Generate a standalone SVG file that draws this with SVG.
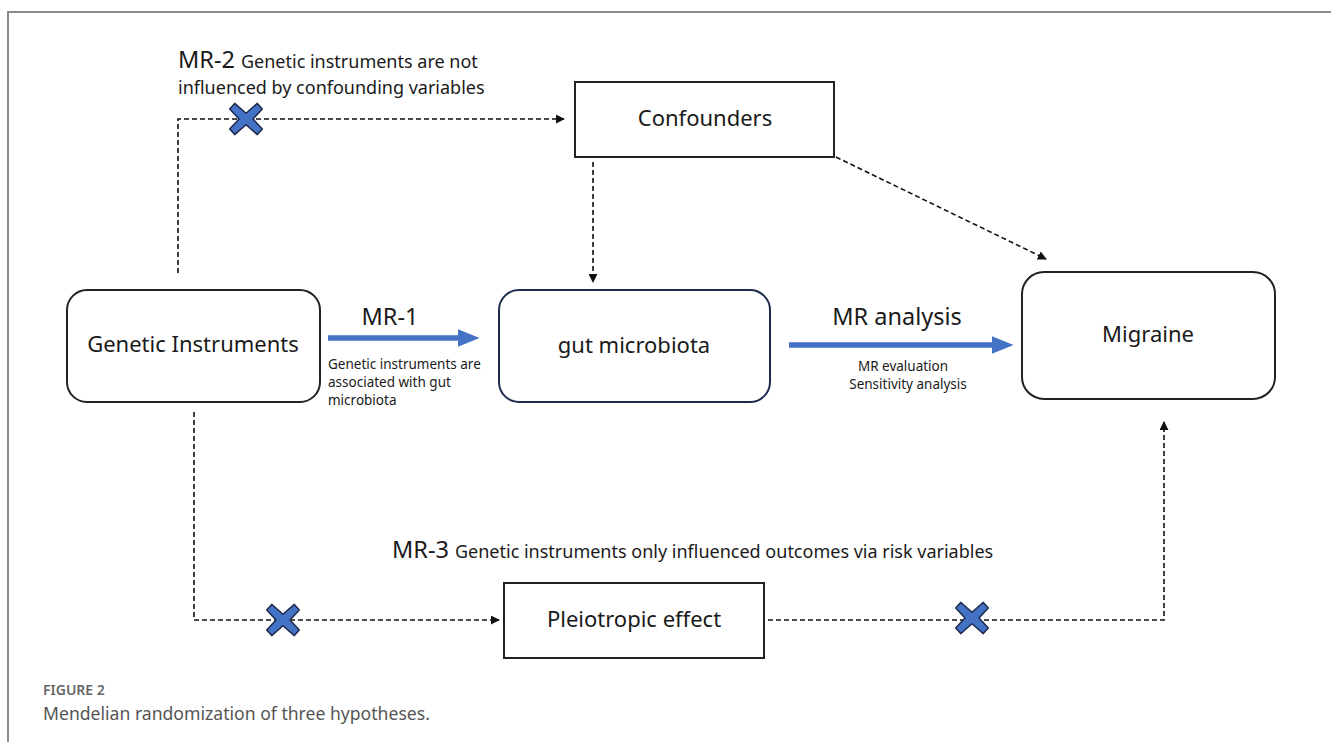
<svg xmlns="http://www.w3.org/2000/svg" xmlns:xlink="http://www.w3.org/1999/xlink" width="1331" height="742" viewBox="0 0 1331 742">
<style>
text{font-family:"Noto Sans","Open Sans","Liberation Sans",sans-serif;fill:#1a1a1a}
.node{fill:#fff;stroke:#222;stroke-width:2}
.navy{stroke:#1e2b4d}
.dash{fill:none;stroke:#111;stroke-width:1.6;stroke-dasharray:5 3}
.blue{fill:none;stroke:#4472c4;stroke-width:5.5}
.big{font-size:22px}
.lbl{font-size:23.5px}
.mid{font-size:18px}
.small{font-size:13.5px}
.frame{stroke:#8c8c8c;stroke-width:2;fill:none}
</style>
<defs>
<marker id="ah" viewBox="0 0 10 10" refX="9" refY="5" markerWidth="9" markerHeight="9" markerUnits="userSpaceOnUse" orient="auto">
<path d="M0,0 L10,5 L0,10 z" fill="#111"/>
</marker>
<marker id="bh" viewBox="0 0 10 10" refX="2" refY="5" markerWidth="22" markerHeight="18" markerUnits="userSpaceOnUse" orient="auto" preserveAspectRatio="none">
<path d="M0,0 L10,5 L0,10 z" fill="#4472c4"/>
</marker>
<polygon id="xm" points="-11.3,-15.6 0,-5.7 11.3,-15.6 16.3,-9.9 7,0 16.3,9.9 11.3,15.6 0,5.7 -11.3,15.6 -16.3,9.9 -7,0 -16.3,-9.9" fill="#4472c4" stroke="#1e2b4d" stroke-width="1.5" stroke-linejoin="round"/>
</defs>
<rect width="1331" height="742" fill="#fff"/>
<path class="frame" d="M8,742 L8,12 L1331,12"/>

<g id="connectors">
<path class="dash" d="M178,273 L178,119 L564,119" marker-end="url(#ah)"/>
<path class="dash" d="M593,162 L593,282" marker-end="url(#ah)"/>
<path class="dash" d="M836,157 L1046,259" marker-end="url(#ah)"/>
<path class="dash" d="M194,412 L194,620 L499,620" marker-end="url(#ah)"/>
<path class="dash" d="M768,620 L1164,620 L1164,422" marker-end="url(#ah)"/>
<path class="blue" d="M328,338 L462,338" marker-end="url(#bh)"/>
<path class="blue" d="M789,345 L996,345" marker-end="url(#bh)"/>
<use xlink:href="#xm" href="#xm" x="246" y="119"/>
<use xlink:href="#xm" href="#xm" x="283" y="620"/>
<use xlink:href="#xm" href="#xm" x="972" y="618"/>
</g>

<g id="labels">
<text x="178" y="68"><tspan class="lbl">MR-2</tspan><tspan class="mid" dx="6">Genetic instruments are not</tspan></text>
<text x="178" y="94" class="mid">influenced by confounding variables</text>
<text x="390" y="325" class="lbl" text-anchor="middle">MR-1</text>
<text x="328" y="369" class="small">Genetic instruments are</text>
<text x="328" y="387" class="small">associated with gut</text>
<text x="328" y="405" class="small">microbiota</text>
<text x="897" y="325" class="lbl" text-anchor="middle">MR analysis</text>
<text x="903" y="371" class="small" text-anchor="middle">MR evaluation</text>
<text x="908" y="389" class="small" text-anchor="middle">Sensitivity analysis</text>
<text x="392" y="558"><tspan class="lbl">MR-3</tspan><tspan class="mid" dx="6">Genetic instruments only influenced outcomes via risk variables</tspan></text>
</g>

<g id="genetic">
<rect class="node" x="67" y="290" width="253" height="112" rx="20"/>
<text x="193" y="352" class="big" text-anchor="middle">Genetic Instruments</text>
</g>
<g id="gut">
<rect class="node navy" x="499" y="290" width="271" height="112" rx="20"/>
<text x="634" y="353" class="big" text-anchor="middle">gut microbiota</text>
</g>
<g id="migraine">
<rect class="node" x="1022" y="272" width="253" height="127" rx="22"/>
<text x="1148" y="342" class="big" text-anchor="middle">Migraine</text>
</g>
<g id="confounders">
<rect class="node" x="575" y="82" width="259" height="75"/>
<text x="705" y="126" class="big" text-anchor="middle">Confounders</text>
</g>
<g id="pleiotropic">
<rect class="node" x="504" y="583" width="260" height="75"/>
<text x="634" y="627" class="big" text-anchor="middle">Pleiotropic effect</text>
</g>

<g id="caption">
<text x="43" y="695" style="font-size:14px;fill:#666;font-weight:600">FIGURE 2</text>
<text x="43" y="720" style="font-size:17.6px;fill:#555">Mendelian randomization of three hypotheses.</text>
</g>
</svg>
